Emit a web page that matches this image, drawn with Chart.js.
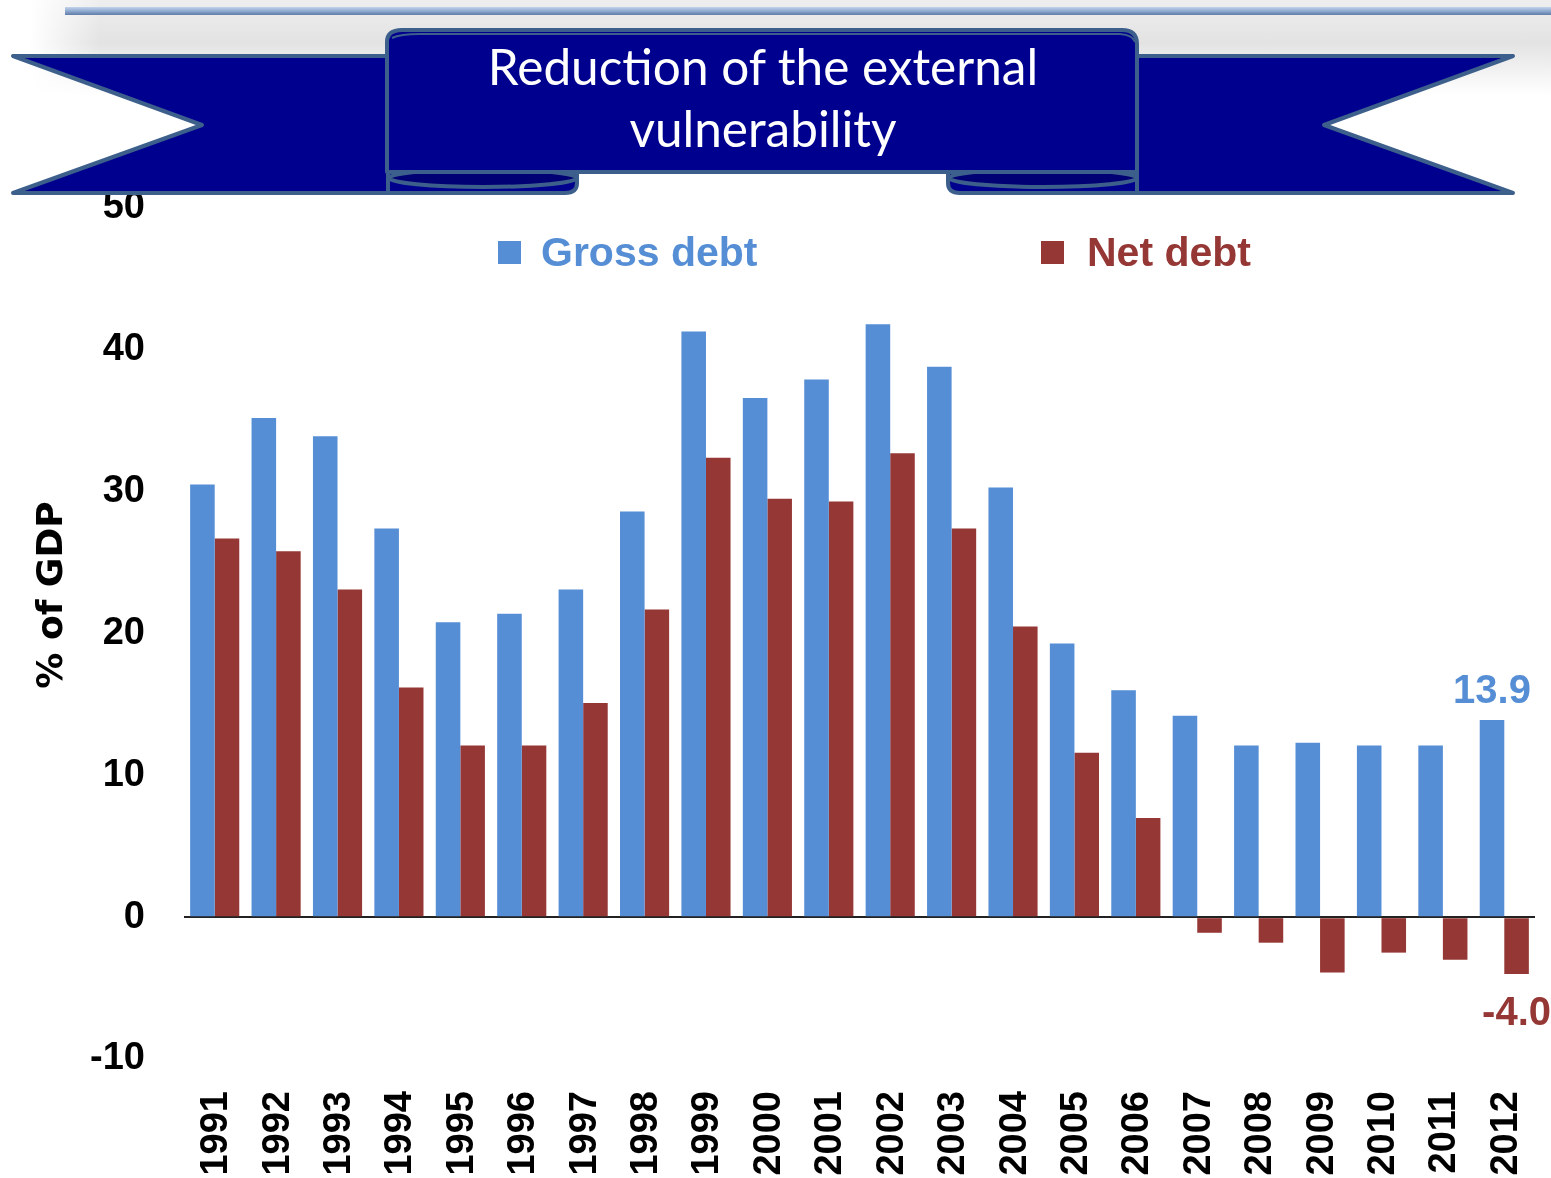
<!DOCTYPE html>
<html lang="en">
<head>
    <meta charset="UTF-8">
    <title>Reduction of the external vulnerability</title>
    <script src="https://cdn.jsdelivr.net/npm/chart.js"></script>
    <style>
        body {
            margin: 0;
            width: 1551px;
            height: 1178px;
            overflow: hidden;
            background: #fff;
            position: relative;
        }

        /* grey haze under the slide header */
        #haze {
            position: absolute;
            left: 30px;
            top: 0;
            width: 1521px;
            height: 95px;
            background: linear-gradient(#eeeeee, #e3e3e3 45%, #ffffff);
            -webkit-mask-image: linear-gradient(to right, transparent, #000 70px);
            mask-image: linear-gradient(to right, transparent, #000 70px);
        }

        #rule {
            position: absolute;
            left: 65px;
            top: 7px;
            width: 1486px;
            height: 8px;
            background: linear-gradient(#c3d4ea, #95afd4 45%, #5f7ca8);
        }

        #debtChart {
            position: absolute;
            left: 0;
            top: 0;
        }

        #banner {
            position: absolute;
            left: 0;
            top: 0;
        }
    </style>
</head>
<body>
    <div id="haze"></div>
    <div id="rule"></div>
    <canvas id="debtChart" width="1551" height="1178"></canvas>

    <svg id="banner" width="1551" height="205">
        <g stroke="#3d5f8c" stroke-width="4" stroke-linejoin="round" fill="#00008e">
            <!-- ribbon tails -->
            <path d="M13,56 L440,56 L440,193 L13,193 L202,125 Z"/>
            <path d="M1513,56 L1090,56 L1090,193 L1513,193 L1324,125 Z"/>
            <!-- rolled ends under the panel -->
            <path d="M388,168 L577,168 L577,183 Q577,193 565,193 L388,193 Z"/>
            <ellipse cx="483" cy="178" rx="94" ry="9" fill="#000074"/>
            <path d="M948,168 L1137,168 L1137,193 L960,193 Q948,193 948,183 Z"/>
            <ellipse cx="1043" cy="178" rx="94" ry="9" fill="#000074"/>
            <!-- centre panel -->
            <path d="M387,172 L387,42 Q387,30 402,30 L1122,30 Q1137,30 1137,44 L1137,172 Z"/>
            <path d="M392,38 Q400,34 420,34 L1120,34 Q1133,35 1135,42" fill="none" stroke-width="2"/>
        </g>
        <g fill="#fff" font-family="Lato, 'Open Sans', sans-serif" font-size="49.5" text-anchor="middle">
            <text x="763" y="85">Reduction of the external</text>
            <text x="763" y="147">vulnerability</text>
        </g>
    </svg>

    <script>
        // External debt, % of GDP
        const years = ['1991', '1992', '1993', '1994', '1995', '1996', '1997', '1998', '1999', '2000', '2001',
                       '2002', '2003', '2004', '2005', '2006', '2007', '2008', '2009', '2010', '2011', '2012'];
        const grossDebt = [30.5, 35.2, 33.9, 27.4, 20.8, 21.4, 23.1, 28.6, 41.3, 36.6, 37.9,
                           41.8, 38.8, 30.3, 19.3, 16.0, 14.2, 12.1, 12.3, 12.1, 12.1, 13.9];
        const netDebt = [26.7, 25.8, 23.1, 16.2, 12.1, 12.1, 15.1, 21.7, 32.4, 29.5, 29.3,
                         32.7, 27.4, 20.5, 11.6, 7.0, -1.1, -1.8, -3.9, -2.5, -3.0, -4.0];
        const yTicks = [-10, 0, 10, 20, 30, 40, 50];

        const grossColor = '#558ed5';
        const netColor = '#953735';

        // legend, axis title and the labels on the last year
        const extras = {
            id: 'extras',
            afterDatasetsDraw(chart) {
                const ctx = chart.ctx;
                ctx.save();

                ctx.font = 'bold 41px "Liberation Sans", Arial, sans-serif';
                ctx.textAlign = 'left';
                ctx.textBaseline = 'alphabetic';
                ctx.fillStyle = grossColor;
                ctx.fillRect(498, 241, 23, 23);
                ctx.fillText('Gross debt', 541, 266);
                ctx.fillStyle = netColor;
                ctx.fillRect(1041, 241, 23, 23);
                ctx.fillText('Net debt', 1087, 266);

                const last = years.length - 1;
                const g = chart.getDatasetMeta(0).data[last];
                const n = chart.getDatasetMeta(1).data[last];
                ctx.font = 'bold 40px "Liberation Sans", Arial, sans-serif';
                ctx.textAlign = 'center';
                ctx.fillStyle = grossColor;
                ctx.fillText(grossDebt[last].toFixed(1), g.x, g.y - 17);
                ctx.fillStyle = netColor;
                ctx.fillText(netDebt[last].toFixed(1), n.x, n.y + 51);

                ctx.translate(53, 595);
                ctx.rotate(-Math.PI / 2);
                ctx.font = 'bold 36px "DejaVu Sans", sans-serif';
                ctx.fillStyle = '#000';
                ctx.textBaseline = 'middle';
                ctx.fillText('% of GDP', 0, 0);

                ctx.restore();
            }
        };

        new Chart(document.getElementById('debtChart'), {
            type: 'bar',
            data: {
                labels: years,
                datasets: [{
                    label: 'Gross debt',
                    data: grossDebt,
                    backgroundColor: grossColor,
                    barPercentage: 1,
                    categoryPercentage: 0.8
                }, {
                    label: 'Net debt',
                    data: netDebt,
                    backgroundColor: netColor,
                    barPercentage: 1,
                    categoryPercentage: 0.8
                }]
            },
            options: {
                responsive: false,
                animation: false,
                layout: { padding: { top: 208, right: 16, left: 0, bottom: 0 } },
                plugins: {
                    legend: { display: false },
                    tooltip: { enabled: false }
                },
                scales: {
                    x: {
                        grid: { display: false, drawTicks: false },
                        border: { display: false },
                        ticks: {
                            minRotation: 90,
                            maxRotation: 90,
                            padding: 32,
                            labelOffset: 2,
                            color: '#000',
                            font: { family: '"Liberation Sans", Arial, sans-serif', size: 38, weight: 'bold' }
                        },
                        afterFit(scale) {
                            scale.height = 119;
                            scale.paddingLeft = 0;
                            scale.paddingRight = 0;
                        }
                    },
                    y: {
                        min: -10,
                        max: 50,
                        afterBuildTicks(scale) { scale.ticks = yTicks.map(v => ({ value: v })); },
                        grid: {
                            drawTicks: false,
                            lineWidth: 2,
                            color: c => (c.tick && c.tick.value === 0 ? '#222' : 'transparent')
                        },
                        border: { display: false },
                        ticks: {
                            padding: 39,
                            color: '#000',
                            font: { family: '"Liberation Sans", Arial, sans-serif', size: 38, weight: 'bold' }
                        },
                        afterFit(scale) { scale.width = 184; }
                    }
                }
            },
            plugins: [extras]
        });
    </script>
</body>
</html>
